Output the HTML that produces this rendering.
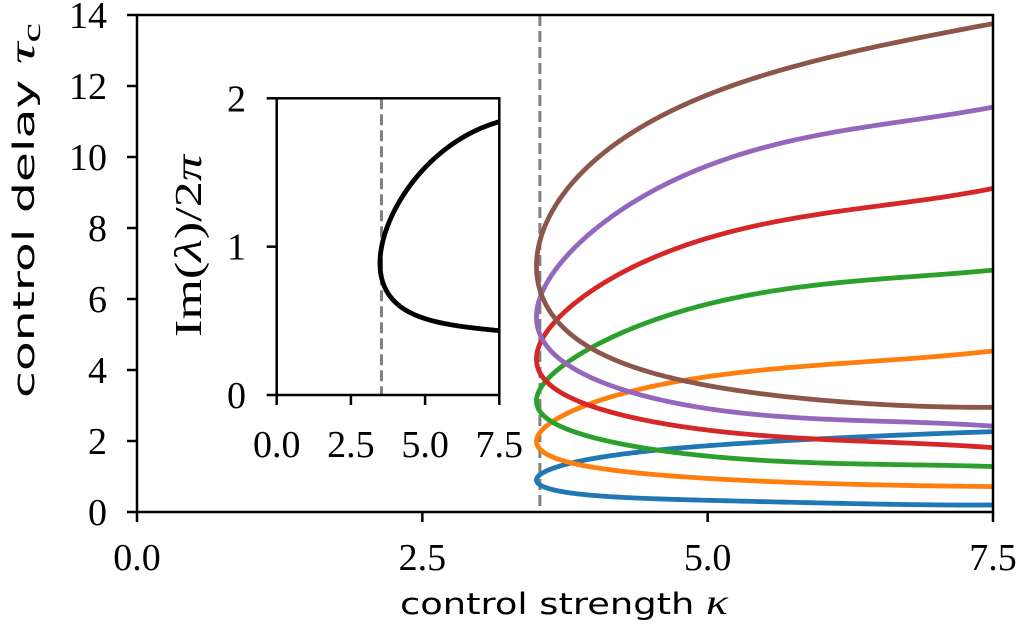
<!DOCTYPE html>
<html><head><meta charset="utf-8"><style>
html,body{margin:0;padding:0;background:#fff;}
svg{display:block;}
.tk{font-family:"Liberation Serif",serif;font-size:38px;fill:#000;}
.lab{font-family:"DejaVu Sans","Liberation Sans",sans-serif;font-size:29px;fill:#000;}
</style></head><body>
<svg id="chart" width="1020" height="636" viewBox="0 0 1020 636" xmlns="http://www.w3.org/2000/svg">
<g id="g-main"></g>
<g id="g-inset"></g>
</svg>
<script>
// main chart data
const kappaTip = 3.5;
const kappaSamples = [3.6, 3.8, 4.0, 4.5, 5.0, 5.5, 6.0, 6.5, 7.0, 7.5];
const seriesNames = ['mode-1','mode-2','mode-3','mode-4','mode-5','mode-6'];
const seriesColors = ['#1f77b4','#ff7f0e','#2ca02c','#d62728','#9467bd','#8c564b'];
const tipTau = [0.88, 2.0, 3.15, 4.28, 5.46, 6.72];
const lowerTau1 = [0.67,0.53,0.48,0.39,0.32,0.28,0.25,0.23,0.21,0.19];
const upperTau1 = [1.18,1.39,1.51,1.72,1.86,1.97,2.07,2.14,2.21,2.26];
const lowerTau2 = [1.61,1.39,1.28,1.06,0.93,0.86,0.81,0.77,0.74,0.71];
const upperTau2 = [2.40,2.83,3.11,3.58,3.78,3.97,4.14,4.28,4.40,4.52];
const lowerTau3 = [2.59,2.31,2.12,1.76,1.56,1.45,1.39,1.35,1.31,1.28];
const upperTau3 = [3.72,4.28,4.66,5.42,5.85,6.15,6.40,6.58,6.70,6.80];
const lowerTau4 = [3.63,3.25,3.01,2.48,2.30,2.18,2.06,1.97,1.89,1.82];
const upperTau4 = [5.13,5.78,6.21,7.25,7.70,8.05,8.38,8.65,8.88,9.09];
const lowerTau5 = [4.66,4.14,3.81,3.13,2.90,2.75,2.64,2.56,2.49,2.42];
const upperTau5 = [6.40,7.35,7.99,9.10,9.70,10.20,10.62,10.95,11.18,11.37];
const lowerTau6 = [5.69,5.13,4.75,3.82,3.50,3.30,3.17,3.07,2.99,2.92];
const upperTau6 = [8.22,9.30,10.00,11.00,11.65,12.25,12.78,13.18,13.48,13.72];
const lowers = [lowerTau1,lowerTau2,lowerTau3,lowerTau4,lowerTau5,lowerTau6];
const uppers = [upperTau1,upperTau2,upperTau3,upperTau4,upperTau5,upperTau6];
const xTicks = [0, 2.5, 5.0, 7.5];
const xTickLabels = ['0.0','2.5','5.0','7.5'];
const yTicks = [0,2,4,6,8,10,12,14];
const kappaCritical = 3.53;
// inset data
const insetKappaTip = 3.48;
const insetFreqTip = 0.88;
const insetKappa = [3.59, 3.93, 4.99, 6.11, 7.5];
const insetUpper = [1.05, 1.25, 1.53, 1.70, 1.85];
const insetLower = [0.74, 0.64, 0.52, 0.47, 0.43];
const insetXTicks = [0, 2.5, 5.0, 7.5];
const insetXTickLabels = ['0.0','2.5','5.0','7.5'];
const insetYTicks = [0,1,2];

const NS='http://www.w3.org/2000/svg';
function mk(parent,tag,attrs,text){const e=document.createElementNS(NS,tag);for(const k in attrs)e.setAttribute(k,attrs[k]);if(text!==undefined)e.textContent=text;parent.appendChild(e);return e;}
// least-squares polynomial in s = ±sqrt(k - tipK), smooths reading noise
function solve(A,b){const n=b.length;for(let i=0;i<n;i++){let p=i;for(let r=i+1;r<n;r++)if(Math.abs(A[r][i])>Math.abs(A[p][i]))p=r;
 [A[i],A[p]]=[A[p],A[i]];[b[i],b[p]]=[b[p],b[i]];
 for(let r=i+1;r<n;r++){const f=A[r][i]/A[i][i];for(let c=i;c<n;c++)A[r][c]-=f*A[i][c];b[r]-=f*b[i];}}
 const x=new Array(n).fill(0);for(let i=n-1;i>=0;i--){let s=b[i];for(let c=i+1;c<n;c++)s-=A[i][c]*x[c];x[i]=s/A[i][i];}return x;}
function branchPath(tipK,tipV,ks,lo,up,X,Y,deg){
 const nodes=[];
 for(let i=ks.length-1;i>=0;i--)nodes.push([-Math.sqrt(ks[i]-tipK),lo[i]]);
 nodes.push([0,tipV]);
 for(let i=0;i<ks.length;i++)nodes.push([Math.sqrt(ks[i]-tipK),up[i]]);
 const D=deg+1;const A=[];const b=new Array(D).fill(0);
 for(let i=0;i<D;i++)A.push(new Array(D).fill(0));
 nodes.forEach(([s,v])=>{const w=1;const pw=[];for(let i=0;i<D;i++)pw.push(Math.pow(s,i));
  for(let i=0;i<D;i++){b[i]+=w*pw[i]*v;for(let j=0;j<D;j++)A[i][j]+=w*pw[i]*pw[j];}});
 const c=solve(A,b);
 const s0=nodes[0][0],s1=nodes[nodes.length-1][0];
 let d='';
 for(let j=0;j<=300;j++){const s=s0+(s1-s0)*j/300;let v=0;for(let i=D-1;i>=0;i--)v=v*s+c[i];
  d+=(j?'L':'M')+X(tipK+s*s).toFixed(2)+','+Y(v).toFixed(2);}
 return d;
}

// main axes
const L=137,R=993,T=15,B=512;
const X=k=>L+(k/7.5)*(R-L);
const Y=t=>B-(t/14)*(B-T);
const gm=document.getElementById('g-main');
const clip=mk(gm,'clipPath',{id:'cm'});mk(clip,'rect',{x:L,y:T,width:R-L,height:B-T});
let e=mk(gm,'line',{x1:X(kappaCritical),x2:X(kappaCritical),y1:T,y2:B,stroke:'#808080','stroke-width':3,'stroke-dasharray':'11,5'});


const cg=mk(gm,'g',{'clip-path':'url(#cm)'});
for(let s=0;s<6;s++){
 const p=mk(cg,'path',{d:branchPath(kappaTip,tipTau[s],kappaSamples,lowers[s],uppers[s],X,Y,7),fill:'none',stroke:seriesColors[s],'stroke-width':4.8,'stroke-linejoin':'round'});
 
 
}
e=mk(gm,'rect',{x:L,y:T,width:R-L,height:B-T,fill:'none',stroke:'#000','stroke-width':2.5});


xTicks.forEach((v,i)=>{mk(gm,'line',{x1:X(v),x2:X(v),y1:B,y2:B+10,stroke:'#000','stroke-width':2.5});
 const t=mk(gm,'text',{x:X(v),y:570,'text-anchor':'middle',class:'tk'},xTickLabels[i]);
 
 });
yTicks.forEach(v=>{mk(gm,'line',{x1:L-10,x2:L,y1:Y(v),y2:Y(v),stroke:'#000','stroke-width':2.5});
 const t=mk(gm,'text',{x:107,y:Y(v)+13,'text-anchor':'end',class:'tk'},String(v));
 
 });
e=mk(gm,'text',{x:400,y:614,class:'lab',textLength:328,lengthAdjust:'spacingAndGlyphs'});
e.innerHTML='control strength <tspan font-family="Liberation Serif" font-style="italic" font-size="36">κ</tspan>';


e=mk(gm,'text',{x:0,y:0,class:'lab',textLength:375,lengthAdjust:'spacingAndGlyphs',transform:'translate(34,398) rotate(-90)'});
e.innerHTML='control delay <tspan font-family="Liberation Serif" font-style="italic" font-size="36">τ</tspan><tspan font-family="Liberation Serif" font-size="26" dy="6">c</tspan>';



// inset
const iL=276.7,iR=499.3,iT=98.3,iB=395;
const IX=k=>iL+(k/7.5)*(iR-iL);
const IY=f=>iB-(f/2)*(iB-iT);
const gi=document.getElementById('g-inset');
e=mk(gi,'rect',{x:iL,y:iT,width:iR-iL,height:iB-iT,fill:'#fff',stroke:'none'});


e=mk(gi,'line',{x1:IX(kappaCritical),x2:IX(kappaCritical),y1:iT,y2:iB,stroke:'#808080','stroke-width':3,'stroke-dasharray':'11,5'});


e=mk(gi,'path',{d:branchPath(insetKappaTip,insetFreqTip,insetKappa,insetLower,insetUpper,IX,IY,4),fill:'none',stroke:'#000','stroke-width':4.8,'stroke-linejoin':'round'});


e=mk(gi,'rect',{x:iL,y:iT,width:iR-iL,height:iB-iT,fill:'none',stroke:'#000','stroke-width':2.5});


insetXTicks.forEach((v,i)=>{mk(gi,'line',{x1:IX(v),x2:IX(v),y1:iB,y2:iB+10,stroke:'#000','stroke-width':2.5});
 const t=mk(gi,'text',{x:IX(v),y:457,'text-anchor':'middle',class:'tk'},insetXTickLabels[i]);
 
 });
insetYTicks.forEach(v=>{mk(gi,'line',{x1:iL-10,x2:iL,y1:IY(v),y2:IY(v),stroke:'#000','stroke-width':2.5});
 const t=mk(gi,'text',{x:246,y:IY(v)+13,'text-anchor':'end',class:'tk'},String(v));
 
 });
e=mk(gi,'text',{x:0,y:0,class:'tk','font-size':'42',textLength:182,lengthAdjust:'spacingAndGlyphs',transform:'translate(201,337) rotate(-90)'});
e.innerHTML='Im(<tspan font-style="italic">λ</tspan>)/2<tspan font-style="italic">π</tspan>';


</script>
</body></html>
